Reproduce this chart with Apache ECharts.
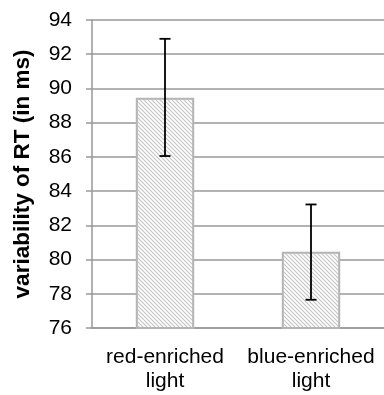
<!DOCTYPE html>
<html><head><meta charset="utf-8">
<script src="https://cdn.jsdelivr.net/npm/echarts@6/dist/echarts.min.js"></script>
<style>html,body{margin:0;padding:0;background:#fff}#c{width:384px;height:395px}</style>
</head><body><div id="c"></div>
<script>
var categories = ['red-enriched\nlight', 'blue-enriched\nlight'];
var means = [89.45, 80.45];
var errLow = [86.05, 77.65];
var errHigh = [92.9, 83.22];
var yTicks = [76, 78, 80, 82, 84, 86, 88, 90, 92, 94];

function makePattern() {
  var c = document.createElement('canvas');
  c.width = 4; c.height = 4;
  var g = c.getContext('2d');
  g.fillStyle = '#fff'; g.fillRect(0, 0, 4, 4);
  g.strokeStyle = '#c4c4c4'; g.lineWidth = 1.1;
  g.beginPath();
  g.moveTo(-1, -1); g.lineTo(5, 5);
  g.moveTo(-1, 3); g.lineTo(1, 5);
  g.moveTo(3, -1); g.lineTo(5, 1);
  g.stroke();
  return c;
}

var font = 'Liberation Sans, Arial, sans-serif';
var chart = echarts.init(document.getElementById('c'));
chart.setOption({
  animation: false,
  grid: { left: 92, right: 0, top: 20, bottom: 67, containLabel: false, outerBoundsMode: 'none' },
  xAxis: {
    type: 'category', data: categories,
    axisLine: { lineStyle: { color: '#999', width: 1.5 } },
    axisTick: { show: false },
    axisLabel: { interval: 0, color: '#000', fontFamily: font, fontSize: 21, lineHeight: 24, margin: 17 }
  },
  yAxis: {
    type: 'value', min: yTicks[0], max: yTicks[yTicks.length - 1], interval: 2,
    name: 'variability of RT (in ms)', nameLocation: 'middle', nameGap: 58,
    nameTextStyle: { color: '#000', fontFamily: font, fontSize: 22.5, fontWeight: 'bold' },
    axisLine: { show: true, lineStyle: { color: '#999', width: 1.5 } },
    axisTick: { show: true, length: 6, lineStyle: { color: '#999', width: 1.5 } },
    axisLabel: { color: '#000', fontFamily: font, fontSize: 21, margin: 20 },
    splitLine: { lineStyle: { color: '#999', width: 1.5 } }
  },
  series: [{
    type: 'bar', data: means, barWidth: '40%',
    itemStyle: { color: { image: makePattern(), repeat: 'repeat' }, borderColor: '#b4b4b4', borderWidth: 2 }
  }, {
    type: 'custom', z: 10,
    data: errLow.map(function (l, i) { return [i, l, errHigh[i]]; }),
    renderItem: function (params, api) {
      var lo = api.coord([api.value(0), api.value(1)]);
      var hi = api.coord([api.value(0), api.value(2)]);
      var w = 5.5;
      var st = { stroke: '#000', lineWidth: 1.8 };
      return { type: 'group', children: [
        { type: 'line', shape: { x1: lo[0], y1: lo[1], x2: hi[0], y2: hi[1] }, style: st },
        { type: 'line', shape: { x1: lo[0] - w, y1: lo[1], x2: lo[0] + w, y2: lo[1] }, style: st },
        { type: 'line', shape: { x1: hi[0] - w, y1: hi[1], x2: hi[0] + w, y2: hi[1] }, style: st }
      ]};
    }
  }]
});
</script></body></html>
